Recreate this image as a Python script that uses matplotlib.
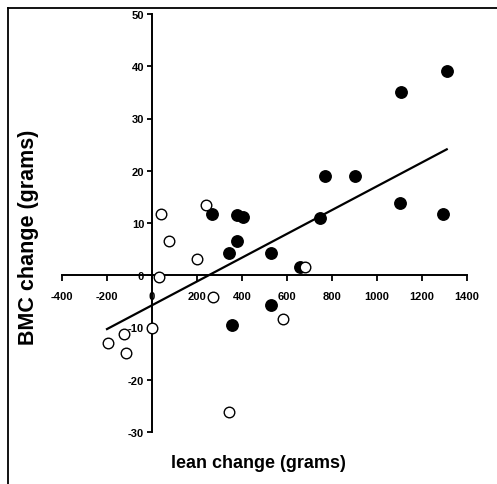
import numpy as np
import matplotlib
matplotlib.use("Agg")
import matplotlib.pyplot as plt
from matplotlib.lines import Line2D

# lean change vs BMC change
filled_x = [1310, 1107, 769, 902, 1102, 1293, 747, 267, 378, 404, 378, 342, 529, 356, 529, 658]
filled_y = [39.0, 35.0, 19.0, 19.0, 13.8, 11.8, 10.9, 11.8, 11.5, 11.1, 6.5, 4.2, 4.2, -9.6, -5.7, 1.5]

open_x = [40, 76, 240, 200, 31, 271, 2, -124, -196, -115, 342, 582, 680]
open_y = [11.7, 6.5, 13.4, 3.1, -0.3, -4.1, -10.0, -11.3, -13.0, -14.9, -26.2, -8.4, 1.5]

# regression line end points
fit_x = [-200, 1310]
fit_y = [-10.3, 24.1]

xticks = [-400, -200, 0, 200, 400, 600, 800, 1000, 1200, 1400]
yticks = [-30, -20, -10, 0, 10, 20, 30, 40, 50]

plt.rcParams['font.family'] = ['Liberation Sans', 'DejaVu Sans']
plt.rcParams['font.weight'] = 'bold'
plt.rcParams['axes.unicode_minus'] = False

W, H = 497, 485
fig = plt.figure(figsize=(W / 100, H / 100), dpi=100)
ax = fig.add_axes([62 / W, (H - 433) / H, (467 - 62) / W, (433 - 15) / H])

ax.plot(fit_x, fit_y, color='black', lw=1.6, zorder=2)
ax.scatter(filled_x, filled_y, s=68, c='black', edgecolors='black', zorder=3)
ax.scatter(open_x, open_y, s=58, facecolors='white', edgecolors='black', linewidths=1.0, zorder=3)

ax.set_xlim(-400, 1400)
ax.set_ylim(-30, 50)
ax.spines['left'].set_position(('data', 0))
ax.spines['bottom'].set_position(('data', 0))
ax.spines['top'].set_visible(False)
ax.spines['right'].set_visible(False)
for s in ['left', 'bottom']:
    ax.spines[s].set_linewidth(1.4)
ax.set_xticks(xticks)
ax.set_yticks(yticks)
ax.tick_params(axis='x', direction='out', length=4.3, width=1.3, pad=7, labelsize=8)
ax.tick_params(axis='y', direction='out', length=3.6, width=1.3, pad=2, labelsize=8)
for lab in ax.get_xticklabels() + ax.get_yticklabels():
    lab.set_fontweight('bold')
ax.patch.set_alpha(0)

fig.text(29 / W, 1 - 237 / H, 'BMC change (grams)', rotation=90, fontsize=15.5,
         fontweight='bold', ha='center', va='center')
fig.text(258 / W, 1 - 463 / H, 'lean change (grams)', fontsize=13,
         fontweight='bold', ha='center', va='center')

# partial frame round the figure
fig.add_artist(Line2D([8 / W, 1], [1 - 8.5 / H, 1 - 8.5 / H], color='black', lw=1.3))
fig.add_artist(Line2D([8 / W, 8 / W], [0, 1 - 8.5 / H], color='black', lw=1.3))

fig.savefig('out.png', dpi=100)
